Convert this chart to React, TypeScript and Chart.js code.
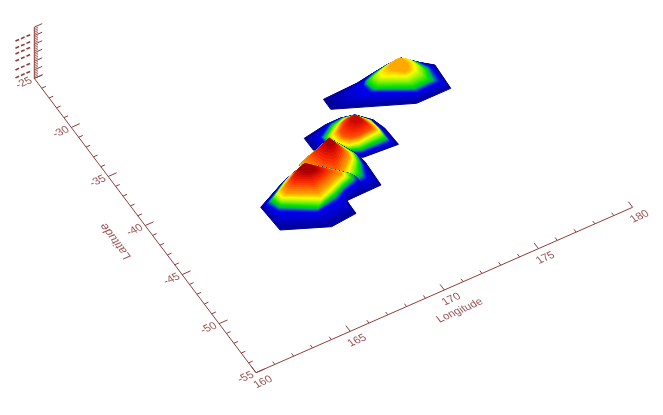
import React, { useEffect, useRef } from "react";
import { Chart, registerables } from "chart.js";

Chart.register(...registerables);

const lonTicks = [160, 165, 170, 175, 180];
const latTicks = [-25, -30, -35, -40, -45, -50, -55];
const zRows = [1.03, 1.96, 3.0, 3.83, 4.5, 5.33];
const zTicks = [0, 1, 2, 3, 4, 5, 6];

// Each mountain: contour rings from the foot to the summit, with the level of each ring (0..1)
const levelsA = [0, 0.22, 0.42, 0.6, 0.7];
const lonsA = [
  [170.91, 170.9, 174.51, 176.32, 176.39, 175.87, 175.23, 174.37, 173.6, 172.72],
  [172.93, 173.0, 174.86, 176.12, 176.14, 175.8, 175.22, 174.36, 173.64, 173.13],
  [173.22, 173.37, 174.88, 175.68, 175.89, 175.73, 175.21, 174.35, 173.67, 173.26],
  [173.9, 173.93, 174.93, 175.43, 175.61, 175.5, 175.22, 174.6, 174.18, 173.99],
  [174.55, 174.55, 175.0, 175.2, 175.34, 175.31, 175.22, 175.03, 174.83, 174.68],
];
const latsA = [
  [-36.33, -37.34, -39.77, -39.77, -37.45, -36.77, -35.76, -35.85, -36.01, -36.22],
  [-36.57, -37.31, -38.88, -38.82, -37.41, -36.71, -35.79, -35.87, -36.04, -36.3],
  [-36.65, -37.18, -38.38, -38.38, -37.61, -36.66, -35.81, -35.9, -36.14, -36.41],
  [-36.27, -36.5, -37.34, -37.21, -36.62, -36.12, -35.79, -35.84, -36.02, -36.14],
  [-36.07, -36.28, -36.95, -36.89, -36.39, -36.03, -35.79, -35.73, -35.8, -35.91],
];

const levelsB = [0, 0.22, 0.42, 0.6, 0.8, 0.93];
const lonsB = [
  [168.97, 168.98, 169.58, 170.76, 172.55, 172.49, 172.28, 171.7, 171.0, 170.2],
  [169.66, 169.68, 170.08, 170.83, 172.29, 172.31, 172.19, 171.69, 171.07, 170.43],
  [169.87, 169.93, 170.33, 170.9, 172.22, 172.24, 172.15, 171.69, 171.1, 170.52],
  [170.17, 170.19, 170.53, 171.0, 172.19, 172.22, 172.1, 171.69, 171.1, 170.66],
  [170.6, 170.6, 170.89, 171.3, 171.96, 172.0, 171.9, 171.69, 171.34, 171.03],
  [171.46, 171.39, 171.47, 171.67, 171.81, 171.8, 171.78, 171.69, 171.6, 171.53],
];
const latsB = [
  [-38.67, -39.87, -41.05, -42.11, -42.3, -40.62, -39.59, -38.59, -38.34, -38.35],
  [-39.15, -40.12, -41.13, -41.7, -41.81, -40.64, -39.59, -38.62, -38.4, -38.44],
  [-39.33, -40.16, -40.94, -41.31, -41.31, -40.51, -39.55, -38.62, -38.46, -38.65],
  [-39.34, -40.04, -40.66, -40.82, -40.64, -40.29, -39.51, -38.62, -38.53, -38.84],
  [-39.36, -39.81, -40.19, -40.29, -40.17, -39.86, -39.2, -38.62, -38.6, -38.71],
  [-38.73, -38.91, -39.18, -39.25, -39.2, -39.01, -38.83, -38.62, -38.61, -38.65],
];

const levelsC = [0, 0.22, 0.42, 0.6, 0.72, 0.97];
const lonsC = [
  [168.0, 167.91, 168.41, 168.79, 170.63, 170.69, 170.59, 169.97, 169.23, 168.58],
  [168.0, 168.15, 168.63, 169.32, 170.26, 170.53, 170.56, 169.97, 169.23, 168.58],
  [168.0, 168.25, 168.78, 169.38, 170.08, 170.43, 170.53, 169.97, 169.23, 168.58],
  [168.0, 168.35, 168.93, 169.39, 169.76, 170.27, 170.4, 169.97, 169.23, 168.58],
  [168.12, 168.5, 169.09, 169.32, 169.63, 170.16, 170.29, 169.97, 169.23, 168.64],
  [169.65, 169.64, 169.74, 169.9, 170.01, 170.03, 170.02, 169.96, 169.84, 169.74],
];
const latsC = [
  [-40.57, -43.05, -44.48, -44.87, -44.83, -42.5, -41.63, -39.51, -39.91, -40.21],
  [-40.57, -42.9, -44.16, -43.96, -43.83, -42.7, -41.81, -39.51, -39.91, -40.21],
  [-40.57, -42.65, -43.77, -43.6, -43.17, -42.28, -41.58, -39.51, -39.91, -40.21],
  [-40.57, -42.39, -43.39, -43.11, -42.63, -41.91, -41.4, -39.51, -39.91, -40.21],
  [-40.5, -42.01, -42.85, -42.7, -42.28, -41.61, -41.14, -39.51, -39.91, -40.2],
  [-39.75, -39.91, -40.1, -40.14, -40.05, -39.9, -39.72, -39.54, -39.57, -39.66],
];

const levelsD = [0, 0.22, 0.42, 0.6, 0.72, 0.97];
const lonsD = [
  [165.16, 165.25, 167.41, 168.78, 168.79, 169.79, 169.9, 169.75, 168.25, 166.83],
  [165.5, 165.76, 167.26, 168.44, 168.93, 169.76, 169.88, 169.75, 168.25, 166.93],
  [165.88, 166.0, 167.48, 168.52, 169.13, 169.66, 169.75, 169.37, 168.25, 166.99],
  [166.24, 166.3, 167.86, 168.66, 169.15, 169.46, 169.51, 169.37, 168.25, 167.13],
  [166.63, 166.61, 167.9, 168.62, 169.09, 169.35, 169.39, 169.37, 168.25, 167.34],
  [167.8, 167.8, 168.1, 168.43, 168.54, 168.53, 168.45, 168.37, 168.24, 167.98],
];
const latsD = [
  [-42.49, -44.88, -46.36, -46.16, -44.87, -44.8, -43.63, -42.96, -40.61, -41.29],
  [-42.44, -43.34, -44.71, -44.51, -44.07, -43.75, -43.35, -42.96, -40.61, -41.27],
  [-42.28, -42.96, -44.38, -43.97, -43.56, -43.33, -42.96, -42.4, -40.61, -41.25],
  [-41.98, -42.43, -43.85, -43.4, -43.07, -42.93, -42.69, -42.4, -40.61, -41.2],
  [-41.8, -42.22, -43.31, -42.96, -42.68, -42.63, -42.53, -42.4, -40.61, -41.13],
  [-40.85, -41.08, -41.44, -41.51, -41.46, -41.25, -41.01, -40.88, -40.64, -40.72],
];

const mountains = [
  { levels: levelsA, lons: lonsA, lats: latsA },
  { levels: levelsB, lons: lonsB, lats: latsB },
  { levels: levelsC, lons: lonsC, lats: latsC },
  { levels: levelsD, lons: lonsD, lats: latsD },
];

// Rainbow colour table: level, r, g, b
const colourStops: number[][] = [
  [0, 0, 0, 150],
  [0.2, 0, 0, 240],
  [0.28, 0, 90, 190],
  [0.34, 0, 175, 110],
  [0.42, 0, 225, 0],
  [0.5, 130, 240, 0],
  [0.6, 255, 255, 0],
  [0.72, 255, 150, 0],
  [0.85, 250, 40, 0],
  [0.95, 190, 0, 0],
  [1, 130, 0, 0],
];

const AXIS = "#8b3f3f";
const TEXT = "#9a5353";
const STEPS = 10;

// Oblique view of the lon/lat/height box in the hidden scales of the chart
function project(lon: number, lat: number, z = 0) {
  return {
    x: 256 + 18.83 * (lon - 160) - 7.39 * (lat + 55),
    y: 372.7 - 8.27 * (lon - 160) - 9.81 * (lat + 55) - 8.55 * z,
  };
}

function colourAt(t: number) {
  for (let i = 1; i < colourStops.length; i++) {
    const a = colourStops[i - 1];
    const b = colourStops[i];
    if (t <= b[0]) {
      const f = (t - a[0]) / (b[0] - a[0]);
      const c = [1, 2, 3].map((k) => Math.round(a[k] + (b[k] - a[k]) * f));
      return `rgb(${c[0]},${c[1]},${c[2]})`;
    }
  }
  return "rgb(130,0,0)";
}

function polygon(lons: number[], lats: number[], t: number) {
  const pts = lons.map((lon, i) => project(lon, lats[i]));
  pts.push(pts[0]);
  const c = colourAt(t);
  return {
    data: pts,
    fill: "shape",
    backgroundColor: c,
    borderColor: c,
    borderWidth: 1,
    pointRadius: 0,
    tension: 0,
  };
}

function surfaceDatasets() {
  const out: any[] = [];
  for (const m of mountains) {
    out.push(polygon(m.lons[0], m.lats[0], m.levels[0]));
    for (let r = 1; r < m.levels.length; r++) {
      for (let s = 1; s <= STEPS; s++) {
        const f = s / STEPS;
        const lons = m.lons[r].map((v, i) => m.lons[r - 1][i] + (v - m.lons[r - 1][i]) * f);
        const lats = m.lats[r].map((v, i) => m.lats[r - 1][i] + (v - m.lats[r - 1][i]) * f);
        out.push(polygon(lons, lats, m.levels[r - 1] + (m.levels[r] - m.levels[r - 1]) * f));
      }
    }
  }
  return out;
}

function segmentsDataset(segs: { x: number; y: number }[][], extra: any = {}) {
  const data: { x: number; y: number }[] = [];
  segs.forEach((s) => {
    data.push(...s, { x: NaN, y: NaN });
  });
  return {
    data,
    borderColor: AXIS,
    borderWidth: 1,
    pointRadius: 0,
    tension: 0,
    fill: false,
    ...extra,
  };
}

function axisDatasets() {
  const frame: { x: number; y: number }[][] = [
    [project(160, -55), project(180, -55)],
    [project(160, -55), project(160, -25)],
    [project(160, -25), project(160, -25, 6)],
  ];
  const minor: { x: number; y: number }[][] = [];
  for (let lon = 160; lon <= 180; lon++) {
    const major = lon % 5 === 0;
    const seg = [project(lon, -55), project(lon, major ? -54.42 : -54.71)];
    (major ? frame : minor).push(seg);
  }
  for (let lat = -55; lat <= -25; lat++) {
    const major = lat % 5 === 0;
    const seg = [project(160, lat), project(major ? 160.45 : 160.22, lat)];
    (major ? frame : minor).push(seg);
  }
  zTicks.forEach((z) => frame.push([project(160, -25, z), project(160.42, -25, z)]));
  const hatch: { x: number; y: number }[][] = [];
  for (let i = 0; i < 30; i++) {
    if (i % 5 !== 0) {
      const z = i / 5;
      hatch.push([project(160, -25, z), project(160.2, -25, z)]);
    }
  }
  const dashes = zRows.map((z) => [project(159, -25, z), project(159.8, -25, z)]);
  return [
    segmentsDataset(frame),
    segmentsDataset(minor),
    segmentsDataset(hatch, { borderColor: "rgba(139,63,63,0.75)" }),
    segmentsDataset(dashes, { borderWidth: 1.6, borderDash: [4, 2] }),
  ];
}

const textPlugin = {
  id: "planeText",
  afterDatasetsDraw(chart: any) {
    const { ctx, scales } = chart;
    const put = (text: string, p: { x: number; y: number }, m: number[], size = 11) => {
      ctx.save();
      ctx.translate(scales.x.getPixelForValue(p.x), scales.y.getPixelForValue(p.y));
      ctx.transform(m[0], m[1], m[2], m[3], 0, 0);
      ctx.font = `${size}px "Liberation Sans"`;
      ctx.fillStyle = TEXT;
      ctx.textAlign = "center";
      ctx.textBaseline = "middle";
      ctx.fillText(text, 0, 0);
      ctx.restore();
    };
    const inPlane = [0.915, -0.402, 0.6, 0.8];
    lonTicks.forEach((lon) => put(String(lon), project(lon, -55.95), inPlane));
    latTicks.forEach((lat) => put(String(lat), project(159.45, lat), inPlane));
    put("Longitude", project(170, -57.1), inPlane);
    put("Latitude", project(158.35, -40.2), [-0.6, -0.8, 0.915, -0.402], 12);
  },
};

export default function App() {
  const ref = useRef<HTMLCanvasElement | null>(null);
  useEffect(() => {
    if (!ref.current) return;
    const chart = new Chart(ref.current, {
      type: "line",
      data: { datasets: [...axisDatasets(), ...surfaceDatasets()].reverse() as any },
      options: {
        animation: false,
        responsive: false,
        layout: { padding: 0 },
        spanGaps: false,
        plugins: { legend: { display: false }, tooltip: { enabled: false } },
        scales: {
          x: { type: "linear", min: 0, max: 663, display: false },
          y: { type: "linear", min: 0, max: 415, reverse: true, display: false },
        },
      },
      plugins: [textPlugin],
    } as any);
    return () => chart.destroy();
  }, []);
  return (
    <canvas
      ref={ref}
      width={663}
      height={415}
      style={{ position: "absolute", left: 0, top: 0, display: "block", background: "#fff" }}
    />
  );
}
